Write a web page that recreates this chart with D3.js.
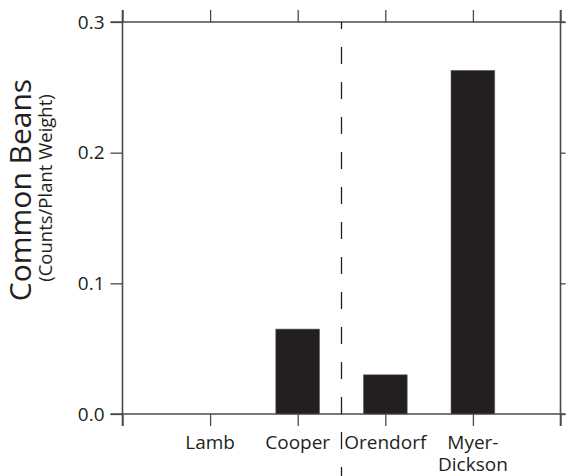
<!DOCTYPE html>
<html lang="en">
<head>
    <title>Common Beans</title>
    <meta charset="utf-8"/>
    <script src="https://d3js.org/d3.v7.min.js"></script>
    <style>
        body { margin: 0; background: #fff; }
        svg text { font-family: "Open Sans", "Noto Sans", sans-serif; fill: #231f20; }
    </style>
</head>
<body>
<div id="viz">
    <svg width="566" height="476"></svg>
</div>

<script type="text/javascript">

    // datos del grafico
    const sites = ["Lamb", "Cooper", "Orendorf", "Myer-Dickson"];
    const siteLines = [["Lamb"], ["Cooper"], ["Orendorf"], ["Myer-", "Dickson"]];
    const beans = [0, 0.065, 0.030, 0.263];
    const yTicks = [0, 0.1, 0.2, 0.3];
    const xTicks = [0, 1, 2, 3, 4, 5];
    const dividerAt = 2.5;   // linea punteada entre Cooper y Orendorf

    const axisColor = "#4a4a4a", barColor = "#231f20";

    // escalas
    let x = d3.scaleLinear().domain([0, 5]).range([122.5, 560.5]);
    let y = d3.scaleLinear().domain([0, 0.3]).range([414, 22]);

    const svg = d3.select("svg");

    // eje izquierdo
    let yLeft = d3.axisLeft(y).tickValues(yTicks).tickSize(12).tickPadding(6)
        .tickFormat(d3.format(".1f"));
    svg.append("g")
        .attr("transform", "translate(" + x(0) + ",0)")
        .call(yLeft);

    // eje derecho, ticks chicos sin texto
    let yRight = d3.axisRight(y).tickValues(yTicks).tickSize(5).tickFormat("");
    svg.append("g")
        .attr("transform", "translate(" + x(5) + ",0)")
        .call(yRight);

    // eje arriba
    let xTop = d3.axisTop(x).tickValues(xTicks).tickSize(12).tickFormat("");
    svg.append("g")
        .attr("transform", "translate(0," + y(0.3) + ")")
        .call(xTop);

    // eje abajo
    let xBottom = d3.axisBottom(x).tickValues(xTicks).tickSize(12).tickFormat("");
    svg.append("g")
        .attr("transform", "translate(0," + y(0) + ")")
        .call(xBottom);

    // estilo de los ejes, las lineas del marco pasan un poco las esquinas
    svg.selectAll(".domain").remove();
    svg.selectAll(".tick line").attr("stroke", axisColor).attr("stroke-width", 1.3);
    svg.selectAll(".tick text").style("fill", barColor).style("font-size", "19px");

    const frame = [
        [x(0), y(0.3) - 12, x(0), y(0) + 12],
        [x(5), y(0.3) - 12, x(5), y(0) + 12],
        [x(0) - 12, y(0.3), x(5) + 5, y(0.3)],
        [x(0) - 12, y(0), x(5) + 5, y(0)]
    ];
    svg.append("g").selectAll("line")
        .data(frame).enter()
        .append("line")
        .attr("x1", d => d[0]).attr("y1", d => d[1])
        .attr("x2", d => d[2]).attr("y2", d => d[3])
        .attr("stroke", axisColor)
        .attr("stroke-width", 1.6);

    // barras
    const half = (x(0.5) - x(0)) / 2;
    svg.append("g").selectAll("rect")
        .data(beans).enter()
        .append("rect")
        .attr("x", (d, i) => x(i + 1) - half)
        .attr("y", d => y(d))
        .attr("width", half * 2)
        .attr("height", d => y(0) - y(d))
        .attr("fill", barColor)
        .attr("stroke", "#6b6b6b")
        .attr("stroke-width", 0.6);

    // linea punteada
    svg.append("line")
        .attr("x1", x(dividerAt)).attr("x2", x(dividerAt))
        .attr("y1", y(0.3)).attr("y2", 476)
        .attr("stroke", barColor)
        .attr("stroke-width", 1.3)
        .attr("stroke-dasharray", "17,18")
        .attr("stroke-dashoffset", 10);

    // etiquetas de categorias, una linea = un text
    let labelData = [];
    siteLines.forEach((lines, i) => {
        lines.forEach((t, j) => labelData.push({pos: i + 1, row: j, text: t}));
    });
    svg.append("g").selectAll("text")
        .data(labelData).enter()
        .append("text")
        .attr("text-anchor", "middle")
        .attr("x", d => x(d.pos))
        .attr("y", d => 449 + d.row * 22)
        .style("font-size", "19px")
        .text(d => d.text);

    // titulo del eje y
    svg.append("text")
        .attr("transform", "translate(31,190) rotate(-90)")
        .attr("text-anchor", "middle")
        .style("font-size", "30px")
        .text("Common Beans");
    svg.append("text")
        .attr("transform", "translate(52,188) rotate(-90)")
        .attr("text-anchor", "middle")
        .style("font-size", "18.5px")
        .text("(Counts/Plant Weight)");

</script>
</body>
</html>
